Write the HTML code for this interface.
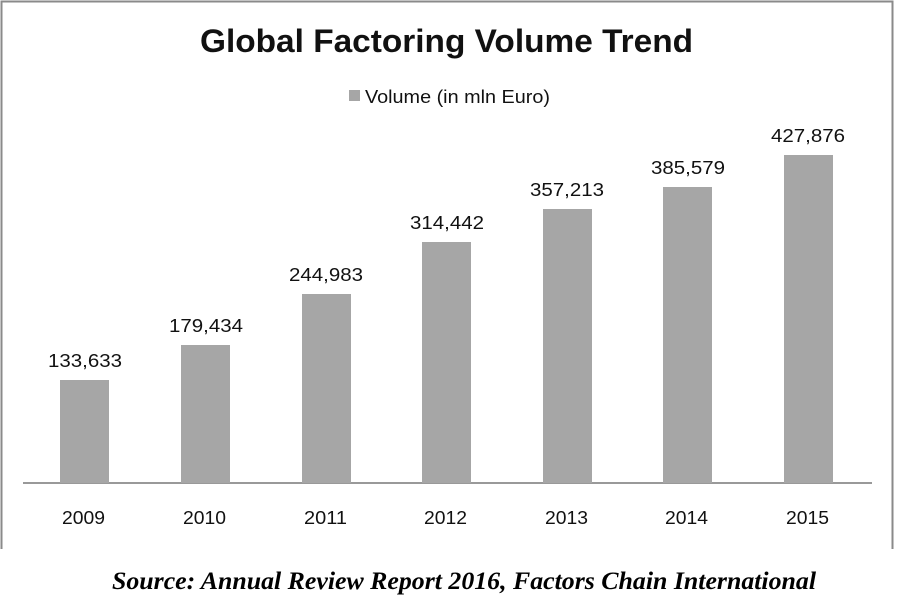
<!DOCTYPE html>
<html><head><meta charset="utf-8"><style>
html,body{margin:0;padding:0;background:#fff;width:900px;height:600px;overflow:hidden}
svg{display:block}
</style></head><body>
<svg width="900" height="600" xmlns="http://www.w3.org/2000/svg">
<rect width="900" height="600" fill="#fff"/>
<path d="M1.5 549 V1.5 H892.5 V549" fill="none" stroke="#8a8a8a" stroke-width="2"/>
<text x="200" y="52" textLength="493" lengthAdjust="spacingAndGlyphs" font-family="Liberation Sans, sans-serif" font-weight="bold" font-size="32" fill="#111">Global Factoring Volume Trend</text>
<rect x="349" y="90" width="11" height="11" fill="#a6a6a6"/>
<text x="365" y="103" textLength="185" lengthAdjust="spacingAndGlyphs" font-family="Liberation Sans, sans-serif" font-size="18" fill="#111">Volume (in mln Euro)</text>
<line x1="23" y1="483" x2="872" y2="483" stroke="#999" stroke-width="2"/>
<g fill="#a6a6a6">
<rect x="60" y="380" width="49" height="103"/>
<rect x="181" y="345" width="49" height="138"/>
<rect x="302" y="294" width="49" height="189"/>
<rect x="422" y="242" width="49" height="241"/>
<rect x="543" y="209" width="49" height="274"/>
<rect x="663" y="187" width="49" height="296"/>
<rect x="784" y="155" width="49" height="328"/>
</g>
<g font-family="Liberation Sans, sans-serif" font-size="18" fill="#111">
<text x="48" y="367" textLength="74" lengthAdjust="spacingAndGlyphs">133,633</text>
<text x="169" y="332" textLength="74" lengthAdjust="spacingAndGlyphs">179,434</text>
<text x="289" y="281" textLength="74" lengthAdjust="spacingAndGlyphs">244,983</text>
<text x="410" y="229" textLength="74" lengthAdjust="spacingAndGlyphs">314,442</text>
<text x="530" y="196" textLength="74" lengthAdjust="spacingAndGlyphs">357,213</text>
<text x="651" y="174" textLength="74" lengthAdjust="spacingAndGlyphs">385,579</text>
<text x="771" y="142" textLength="74" lengthAdjust="spacingAndGlyphs">427,876</text>
<text x="62" y="524" textLength="43" lengthAdjust="spacingAndGlyphs">2009</text>
<text x="183" y="524" textLength="43" lengthAdjust="spacingAndGlyphs">2010</text>
<text x="304" y="524" textLength="43" lengthAdjust="spacingAndGlyphs">2011</text>
<text x="424" y="524" textLength="43" lengthAdjust="spacingAndGlyphs">2012</text>
<text x="545" y="524" textLength="43" lengthAdjust="spacingAndGlyphs">2013</text>
<text x="665" y="524" textLength="43" lengthAdjust="spacingAndGlyphs">2014</text>
<text x="786" y="524" textLength="43" lengthAdjust="spacingAndGlyphs">2015</text>
</g>
<text x="112" y="589" textLength="704" lengthAdjust="spacingAndGlyphs" font-family="Liberation Serif, serif" font-weight="bold" font-style="italic" font-size="25" fill="#000">Source: Annual Review Report 2016, Factors Chain International</text>
</svg>
</body></html>
